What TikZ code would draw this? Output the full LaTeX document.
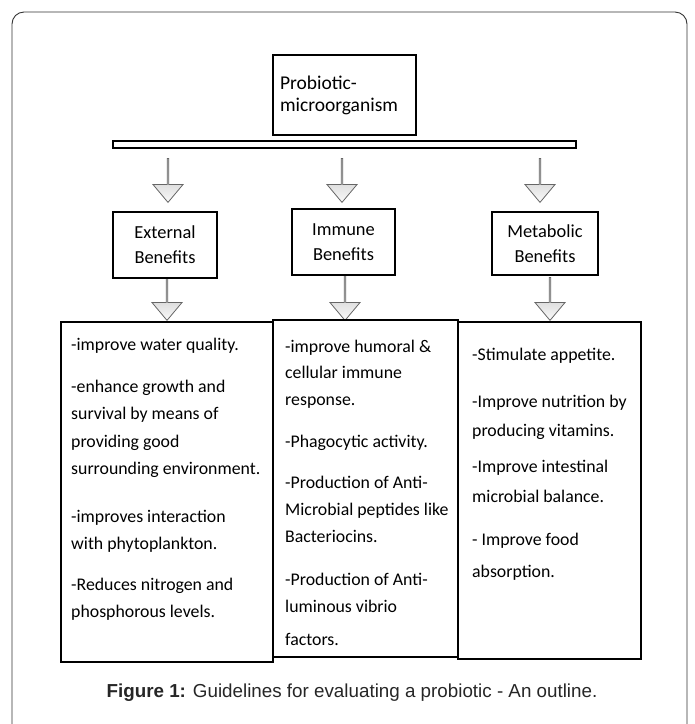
\documentclass[tikz,border=0pt]{standalone}
\usepackage{fontspec}
\setmainfont{Carlito}
\newfontfamily\capfont{Liberation Sans}
\usetikzlibrary{shapes.arrows}
\newcommand\panelfont{\fontsize{17.8}{27.5}\selectfont}
\newcommand\headfont{\fontsize{18.4}{25}\selectfont}

\begin{document}
\begin{tikzpicture}
[x=1pt,y=-1pt,
  boxDecorate/.style={draw,line width=2.4pt,inner sep=0pt,align=center,font=\headfont},%
  panelDecorate/.style={draw,line width=2.8pt,inner sep=0pt},%
  itemDecorate/.style={anchor=north west,yshift=19.25pt,align=left,inner sep=0pt,font=\panelfont},%
  arrowDecorate/.style={single arrow,draw=black!60,line width=0.8pt,rotate=-90,
    minimum width=30pt,single arrow head extend=8.5pt,single arrow tip angle=80,
    inner sep=0pt,bottom color=gray!4,top color=gray!55}]
\useasboundingbox (0,0) rectangle (695,724);
%% outer frame
\draw[black!80,line width=0.9pt,rounded corners=12pt]
  (12,724) -- (12,12) -- (687,12) -- (687,724);
%% block arrows
\foreach \arrowname/\x/\ytail/\ytip in {
  topExt/168/158/202, topImm/342/158/202, topMet/540/158/202,
  botExt/167/278/320, botImm/345/275/320, botMet/550/277/320}
{
  \node (\arrowname) at (\x,{(\ytail+\ytip)/2}) [arrowDecorate,minimum height=\ytip-\ytail] {};
}
%% top box and bar
\node (probiotic) at (344.5,95) [boxDecorate,align=left,text width=129pt,
  minimum width=143pt,minimum height=80pt,font=\fontsize{19.5}{22}\selectfont]
  {Probiotic-\\microorganism};
\node (bar) at (344.5,144.5) [draw,line width=2.4pt,inner sep=0pt,
  minimum width=463pt,minimum height=7pt] {};
%% benefit boxes
\foreach \nodename/\x/\y/\w/\h/\nodelabel in {
  extHead/165/245/104/66/External, immHead/343.5/242/103/66/Immune,
  metHead/545/243.5/106/63/Metabolic}
{
  \node (\nodename) at (\x,\y) [boxDecorate,minimum width=\w,minimum height=\h]
    {\nodelabel\\Benefits};
}
%% panels
\node (extPanel) at (167,492) [panelDecorate,minimum width=212pt,minimum height=340pt] {};
\node (immPanel) at (365.5,488.5) [panelDecorate,minimum width=185pt,minimum height=337pt] {};
\node (metPanel) at (549.5,490.5) [panelDecorate,minimum width=183pt,minimum height=337pt] {};
%% panel texts
\foreach \nodename/\x/\y/\nodetext in {
  ext1/71/350/{-improve water quality.},
  ext2/71/392/{-enhance growth and\\survival by means of\\providing good\\surrounding environment.},
  ext3/71/522/{-improves interaction\\with phytoplankton.},
  ext4/71/590/{-Reduces nitrogen and\\phosphorous levels.},
  imm1/285/352/{-improve humoral \&\\[-1pt]cellular immune\\[-1pt]response.},
  imm2/285/447/{-Phagocytic activity.},
  imm3/285/488/{-Production of Anti-\\Microbial peptides like\\[-1pt]Bacteriocins.},
  imm4/285/585/{-Production of Anti-\\luminous vibrio\\[5pt]factors.},
  met1/472/360/{-Stimulate appetite.},
  met2/472/407/{-Improve nutrition by\\[2pt]producing vitamins.},
  met3/472/472/{-Improve intestinal\\[3pt]microbial balance.},
  met4/472/545/{- Improve food\\[5pt]absorption.}}
{
  \node (\nodename) at (\x,\y) [itemDecorate] {\strut\nodetext};
}
%% caption
\node (caption) at (352,697) [anchor=base,inner sep=0pt,text=black!85,
  font=\capfont\fontsize{18.8}{22}\selectfont]
  {\textbf{Figure 1:} Guidelines for evaluating a probiotic - An outline.};
\end{tikzpicture}
\end{document}
